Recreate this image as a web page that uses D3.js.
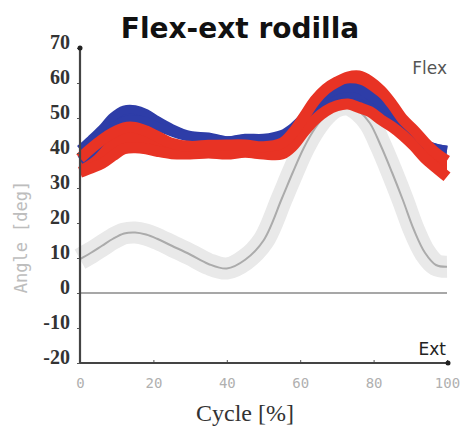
<!DOCTYPE html>
<html>
<head>
<meta charset="utf-8">
<script src="https://cdn.jsdelivr.net/npm/d3@7/dist/d3.min.js"></script>
<style>
html,body{margin:0;padding:0;background:#fff;}
svg{display:block;}
</style>
</head>
<body>
<svg id="chart" width="465" height="429"></svg>
<script>
// ---- data ----
const cycle = [0,3,6,9,12,15,18,21,25,30,35,40,45,50,55,58,61,64,67,70,73,76,79,82,85,88,91,94,97,100];
const grayMean = [9.7,11.5,13.5,15.5,17,17.3,16.7,15.5,13.5,11,8.3,7,9.5,15,27,34.5,41.5,47,51,53.3,53.8,52,48.5,42,34.5,26.5,18,11.5,8,7.5];
const blueUpper = [41,43.8,46.8,50.3,52.3,52.4,51.3,49.3,47,45,44.6,43.5,44.2,44.2,45.3,47.3,50.3,53.8,56.3,58.1,58.6,58.3,56.3,53.8,50.8,47.3,44.8,42.5,41.3,40.8];
const blueLower = [38,40.2,43.7,47.2,49.2,49.5,49,47.6,46,44.5,44.2,43.5,44,44,44.5,46.6,49.6,52,53.6,54.1,54.4,54.1,53.1,51.1,49.1,46.6,44.6,42.5,41.4,40.8];
const redUpper = [38.5,41.3,43.8,45.8,47.2,47.3,46.3,44.8,42.8,41.9,42.2,42.3,42.3,41.8,42.8,45.8,50.3,55,58.3,60.3,61.7,62,60.5,57.8,54,49.6,46.5,43,40,37.8];
const redLower = [34.5,35.7,37,39.2,41.2,41.5,41.2,40.5,39.8,39.7,40,39.7,40.2,39.7,39.7,42,46,49.5,52,53.5,54,53,51.8,49.5,47.5,45,42,38.5,35.8,33.2];
const xTicks = [0,20,40,60,80,100];
const yTicks = [-20,-10,0,10,20,30,40,50,60,70];

const svg = d3.select("#chart");
const x = d3.scaleLinear().domain([0,100]).range([80,447]);
const y = d3.scaleLinear().domain([-20,70]).range([363,48]);

const pts = arr => cycle.map((c,i)=>[c,arr[i]]);
const line = d3.line().x(d=>x(d[0])).y(d=>y(d[1])).curve(d3.curveCatmullRom.alpha(0.5));
const area = d3.area().x((d,i)=>x(cycle[i])).y0(d=>y(d[0])).y1(d=>y(d[1])).curve(d3.curveCatmullRom.alpha(0.5));

// gray reference band + mean
svg.append("path").attr("d", line(pts(grayMean)))
  .attr("fill","none").attr("stroke","#e9e9e9").attr("stroke-width",22);
svg.append("path").attr("d", line(pts(grayMean)))
  .attr("fill","none").attr("stroke","#ababab").attr("stroke-width",2);

// zero line
svg.append("line").attr("x1",x(0)).attr("x2",x(100)).attr("y1",y(0)).attr("y2",y(0))
  .attr("stroke","#8a8a8a").attr("stroke-width",1.6);

const blue = "#2e3da8";
const red = "#e83324";

// red band fill (underneath)
svg.append("path").attr("d", area(redLower.map((v,i)=>[v,redUpper[i]])))
  .attr("fill",red);

// blue band
svg.append("path").attr("d", area(blueLower.map((v,i)=>[v,blueUpper[i]])))
  .attr("fill",blue);
[blueUpper, blueLower].forEach(arr=>{
  svg.append("path").attr("d", line(pts(arr)))
    .attr("fill","none").attr("stroke",blue).attr("stroke-width",9).attr("stroke-linecap","butt");
});

// red curves on top
[redLower, redUpper].forEach(arr=>{
  svg.append("path").attr("d", line(pts(arr)))
    .attr("fill","none").attr("stroke",red).attr("stroke-width",11).attr("stroke-linecap","butt");
});

// axes
const yAxis = svg.append("g").attr("transform",`translate(${x(0)},0)`)
  .call(d3.axisLeft(y).tickValues(yTicks).tickSize(3).tickPadding(8).tickFormat(d=>String(d)));
yAxis.select(".domain").remove();
yAxis.selectAll(".tick line").attr("stroke","#555");
yAxis.selectAll(".tick text").attr("dy","0").attr("x",-10)
  .attr("font-family","'Liberation Serif','Times New Roman',serif")
  .attr("font-weight","bold").attr("font-size",20).attr("fill","#333");

const xAxis = svg.append("g").attr("transform",`translate(0,${y(-20)})`)
  .call(d3.axisBottom(x).tickValues(xTicks).tickSize(-3).tickPadding(0));
xAxis.select(".domain").remove();
xAxis.selectAll(".tick line").attr("stroke","#555");
xAxis.selectAll(".tick text").attr("y",25).attr("dy","0")
  .attr("font-family","'DejaVu Sans Mono',monospace")
  .attr("font-size",14).attr("fill","#b0b0b0");

svg.append("line").attr("x1",x(0)).attr("x2",x(0)).attr("y1",y(70)).attr("y2",y(-20))
  .attr("stroke","#444").attr("stroke-width",2.2);
svg.append("line").attr("x1",x(0)).attr("x2",x(100)).attr("y1",y(-20)).attr("y2",y(-20))
  .attr("stroke","#444").attr("stroke-width",2.2);
svg.append("circle").attr("cx",x(0)).attr("cy",y(70)).attr("r",2.5).attr("fill","#222");
svg.append("circle").attr("cx",x(100)+1).attr("cy",y(-20)).attr("r",2.5).attr("fill","#222");

// texts
svg.append("text").attr("x",240).attr("y",38).attr("text-anchor","middle")
  .attr("font-family","'DejaVu Sans',sans-serif").attr("font-weight","bold")
  .attr("font-size",28).attr("fill","#111").text("Flex-ext rodilla");
svg.append("text").attr("x",447).attr("y",74).attr("text-anchor","end")
  .attr("font-family","'DejaVu Sans',sans-serif").attr("font-size",17)
  .attr("fill","#555").text("Flex");
svg.append("text").attr("x",446).attr("y",355).attr("text-anchor","end")
  .attr("font-family","'DejaVu Sans',sans-serif").attr("font-size",17)
  .attr("fill","#222").text("Ext");
svg.append("text").attr("transform","translate(27,237) rotate(-90)").attr("text-anchor","middle")
  .attr("font-family","'DejaVu Sans Mono',monospace").attr("font-size",17)
  .attr("fill","#bdbdbd").text("Angle [deg]");
svg.append("text").attr("x",245).attr("y",421).attr("text-anchor","middle")
  .attr("font-family","'Liberation Serif','Times New Roman',serif").attr("font-size",24)
  .attr("fill","#333").text("Cycle [%]");
</script>
</body>
</html>
